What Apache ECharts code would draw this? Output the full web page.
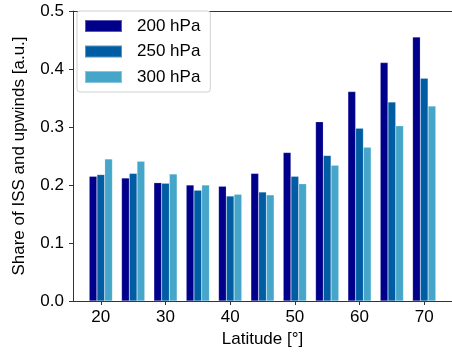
<!DOCTYPE html>
<html>
<head>
<meta charset="utf-8">
<script src="https://cdn.jsdelivr.net/npm/echarts@6/dist/echarts.min.js"></script>
<style>
  html, body { margin: 0; padding: 0; background: #fff; }
  #chart { width: 452px; height: 356px; }
</style>
</head>
<body>
<div id="chart"></div>
<script>
const latitudes = [20, 25, 30, 35, 40, 45, 50, 55, 60, 65, 70];
const share200 = [0.215, 0.212, 0.204, 0.200, 0.198, 0.220, 0.256, 0.309, 0.361, 0.411, 0.455];
const share250 = [0.218, 0.220, 0.203, 0.191, 0.181, 0.188, 0.215, 0.251, 0.298, 0.343, 0.384];
const share300 = [0.245, 0.241, 0.219, 0.200, 0.184, 0.183, 0.202, 0.234, 0.265, 0.302, 0.336];
const xTicks = [20, 30, 40, 50, 60, 70];
const seriesNames = ['200 hPa', '250 hPa', '300 hPa'];
const colors = ['#00008b', '#005ca3', '#45a6c9'];

const font = 'Liberation Sans, Arial, sans-serif';
const pair = (arr) => latitudes.map((lat, i) => [lat, arr[i]]);

const chart = echarts.init(document.getElementById('chart'));

const option = {
  animation: false,
  textStyle: { fontFamily: font },
  grid: { left: 73, top: 11, right: 0, bottom: 55 },
  legend: {
    orient: 'vertical',
    left: 77,
    top: 11,
    padding: [5, 10, 5, 7],
    icon: 'rect',
    itemWidth: 37,
    itemHeight: 12,
    itemGap: 5.5,
    backgroundColor: '#fff',
    borderColor: '#d0d0d0',
    borderWidth: 1,
    borderRadius: 3,
    data: seriesNames,
    textStyle: { fontSize: 17, color: '#000', lineHeight: 20, padding: [0, 0, 0, 10] },
  },
  xAxis: [
    {
      type: 'value',
      min: 15.7,
      max: 74.3,
      name: 'Latitude [°]',
      nameLocation: 'middle',
      nameGap: 30,
      nameTextStyle: { fontSize: 17, color: '#000' },
      axisLine: { lineStyle: { color: '#333', width: 1 } },
      axisTick: { customValues: xTicks, length: 4, lineStyle: { color: '#333' } },
      axisLabel: { customValues: xTicks, fontSize: 17, color: '#000', margin: 8 },
      splitLine: { show: false },
    },
    {
      type: 'value',
      position: 'top',
      min: 15.7,
      max: 74.3,
      axisLine: { show: true, lineStyle: { color: '#333', width: 1 } },
      axisTick: { show: false },
      axisLabel: { show: false },
      splitLine: { show: false },
    },
  ],
  yAxis: {
    type: 'value',
    min: 0,
    max: 0.5,
    interval: 0.1,
    name: 'Share of ISS and upwinds [a.u.]',
    nameLocation: 'middle',
    nameGap: 45,
    nameTextStyle: { fontSize: 17, color: '#000' },
    axisLine: { show: true, lineStyle: { color: '#333', width: 1 } },
    axisTick: { show: true, length: 4, lineStyle: { color: '#333' } },
    axisLabel: { fontSize: 17, color: '#000', margin: 9, formatter: (v) => v.toFixed(1) },
    splitLine: { show: false },
  },
  series: [share200, share250, share300].map((arr, i) => ({
    name: seriesNames[i],
    type: 'bar',
    data: pair(arr),
    barWidth: 7.75,
    barGap: '0%',
    itemStyle: { color: colors[i], borderColor: 'rgba(255,255,255,0.35)', borderWidth: 0.5 },
  })),
};

chart.setOption(option);
</script>
</body>
</html>
